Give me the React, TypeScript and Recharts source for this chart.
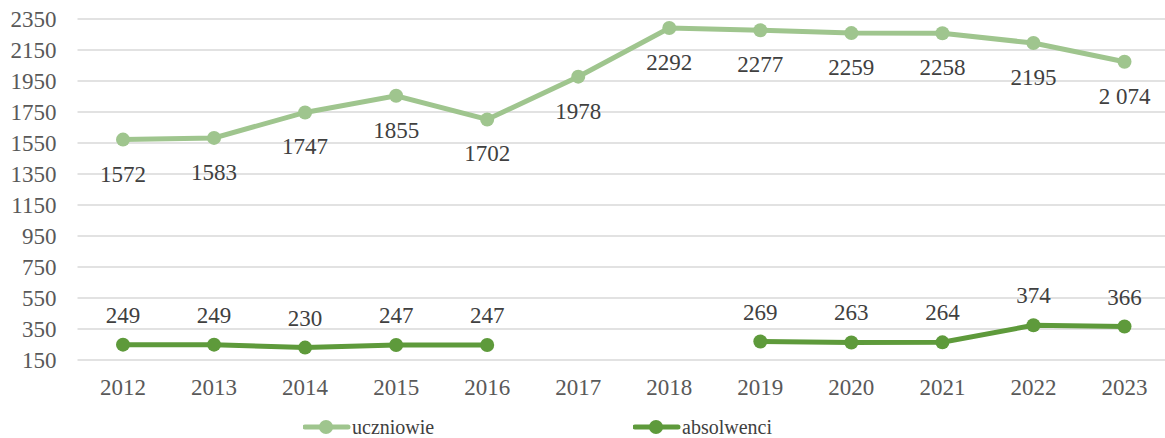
import React from 'react';
import { LineChart, Line, XAxis, YAxis, CartesianGrid } from 'recharts';

// Data
const years = ['2012', '2013', '2014', '2015', '2016', '2017', '2018', '2019', '2020', '2021', '2022', '2023'];
const uczniowie = [1572, 1583, 1747, 1855, 1702, 1978, 2292, 2277, 2259, 2258, 2195, 2074];
const uczniowieLabels = ['1572', '1583', '1747', '1855', '1702', '1978', '2292', '2277', '2259', '2258', '2195', '2 074'];
const absolwenci: (number | null)[] = [249, 249, 230, 247, 247, null, null, 269, 263, 264, 374, 366];
const yTicks = [150, 350, 550, 750, 950, 1150, 1350, 1550, 1750, 1950, 2150, 2350];

const LIGHT = '#9FC58E';
const DARK = '#5E9A3B';
const FONT = "'Liberation Serif', 'DejaVu Serif', serif";

const data = years.map((year, i) => ({
  year,
  uczniowie: uczniowie[i],
  absolwenci: absolwenci[i],
}));

const renderUczniowieLabel = (props: any) => {
  const { x, y, index } = props;
  if (x == null || y == null) return null;
  return (
    <text key={`u-${index}`} x={x} y={y + 42} textAnchor="middle" fontSize={23} style={{ fontFamily: FONT }} fill="#404040">
      {uczniowieLabels[index]}
    </text>
  );
};

const renderAbsolwenciLabel = (props: any) => {
  const { x, y, index, value } = props;
  if (x == null || y == null || value == null) return null;
  return (
    <text key={`a-${index}`} x={x} y={y - 22} textAnchor="middle" fontSize={23} style={{ fontFamily: FONT }} fill="#404040">
      {value}
    </text>
  );
};

// legend drawn by hand so the two entries sit where the reference has them
const LegendItem = ({ color, label, left }: { color: string; label: string; left: number }) => (
  <svg style={{ position: 'absolute', left, top: 0 }} width={180} height={26}>
    <line x1={2} y1={13} x2={45} y2={13} stroke={color} strokeWidth={5} strokeLinecap="round" />
    <circle cx={23} cy={13} r={7} fill={color} />
    <text x={49} y={20} fontSize={20} style={{ fontFamily: FONT }} fill="#404040">{label}</text>
  </svg>
);

const tickStyle = { fontSize: 23, fontFamily: FONT, fill: '#595959' };

const App: React.FC = () => {
  return (
    <div style={{ position: 'fixed', left: 0, top: 0, width: 1165, height: 438, overflow: 'hidden', background: '#fff', fontFamily: FONT }}>
      <LineChart width={1170} height={438} data={data} margin={{ top: 19, right: 0, left: 0, bottom: 48 }} style={{ fontFamily: FONT }}>
        <CartesianGrid vertical={false} stroke="#D9D9D9" strokeWidth={1.5} />
        <XAxis
          dataKey="year"
          height={30}
          axisLine={false}
          tickLine={false}
          tickMargin={13}
          padding={{ left: 45.5, right: 45.5 }}
          tick={tickStyle}
          interval={0}
        />
        <YAxis
          width={77.5}
          domain={[150, 2350]}
          ticks={yTicks}
          axisLine={false}
          tickLine={false}
          tickMargin={15}
          interval={0}
          tick={tickStyle}
        />
        <Line
          type="linear"
          dataKey="uczniowie"
          stroke={LIGHT}
          strokeWidth={5}
          dot={{ r: 7, fill: LIGHT, stroke: LIGHT, strokeWidth: 0 }}
          activeDot={false}
          label={renderUczniowieLabel}
          isAnimationActive={false}
        />
        <Line
          type="linear"
          dataKey="absolwenci"
          stroke={DARK}
          strokeWidth={5}
          dot={{ r: 7, fill: DARK, stroke: DARK, strokeWidth: 0 }}
          activeDot={false}
          connectNulls={false}
          label={renderAbsolwenciLabel}
          isAnimationActive={false}
        />
      </LineChart>
      <div style={{ position: 'absolute', left: 0, top: 414, width: 1165, height: 26 }}>
        <LegendItem color={LIGHT} label="uczniowie" left={303} />
        <LegendItem color={DARK} label="absolwenci" left={633} />
      </div>
    </div>
  );
};

export default App;
